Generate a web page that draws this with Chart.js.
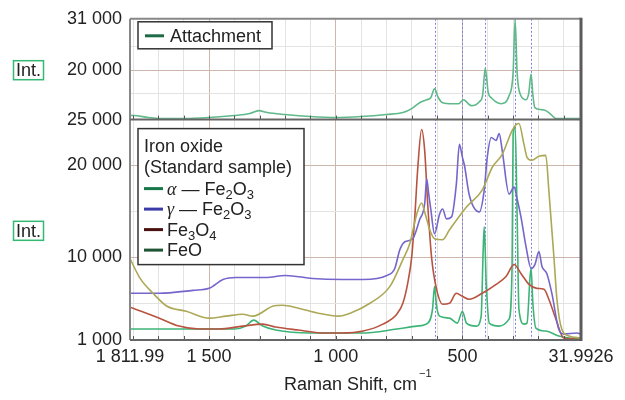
<!DOCTYPE html>
<html>
<head>
<meta charset="utf-8">
<script src="https://cdn.jsdelivr.net/npm/chart.js@4.4.1/dist/chart.umd.min.js"></script>
<style>
  html, body { margin: 0; padding: 0; background: #fff; }
</style>
</head>
<body>
<canvas id="ramanChart" width="625" height="400"></canvas>
<script>
// Raman spectra: attachment (top panel) vs iron oxide standards (bottom panel)
const FONT = '"Liberation Sans", Arial, sans-serif';

const shiftMin = 31.9926;
const shiftMax = 1811.99;
const xLabelValues = [1811.99, 1500, 1000, 500, 31.9926];
const xLabelTexts = ['1 811.99', '1 500', '1 000', '500', '31.9926'];
const xGridValues = [1800, 1700, 1600, 1500, 1400, 1300, 1200, 1100, 1000, 900, 800, 700, 600, 500, 400, 300, 200, 100];
const xMajorValues = [1500, 1000, 500];

const topTickValues = [15000, 20000, 25000, 31000];
const topLabelValues = [31000, 20000];
const bottomTickValues = [1000, 5000, 10000, 15000, 20000, 25000];
const bottomLabelValues = [25000, 20000, 10000, 1000];

// dotted reference lines at the hematite peaks
const peakLines = [610, 500, 410, 292, 229];

// Attachment
const attachShift = [1811.99, 1798, 1740, 1695, 1600, 1500, 1400, 1340, 1304, 1270, 1200, 1100, 1000, 900, 800, 735, 700, 669, 641, 625, 610, 595, 578, 539, 515, 496, 465, 433, 420, 410, 398, 386, 347, 316, 300, 292, 284, 269, 249, 238, 229, 222, 214, 190, 171, 150, 131, 100, 31.9926];
const attachInt = [10270, 10270, 9850, 9640, 9640, 9850, 10270, 10700, 11330, 10910, 10490, 10060, 9850, 10060, 10490, 10910, 11750, 13020, 13660, 14080, 15980, 14080, 13020, 12810, 12810, 13660, 12390, 13230, 14715, 20430, 15137, 14080, 12810, 14500, 19370, 30790, 19370, 14500, 13660, 15137, 19160, 14715, 11970, 11540, 11330, 10490, 9640, 9640, 9640];

// alpha-Fe2O3
const alphaShift = [1811.99, 1500, 1400, 1355, 1324, 1288, 1237, 1100, 900, 759, 680, 637, 618, 610, 602, 590, 551, 520, 500, 484, 445, 426, 418, 414, 406, 394, 355, 316, 304, 300, 292, 284, 277, 257, 245, 233, 229, 222, 210, 171, 120, 80, 31.9926];
const alphaInt = [2191, 2191, 2191, 2515, 3164, 2515, 2083, 1759, 1759, 2191, 2515, 2840, 4353, 6839, 4677, 3596, 3380, 2840, 4137, 2840, 2515, 3596, 10839, 13325, 7164, 2840, 2515, 3272, 9001, 23379, 24243, 14406, 4353, 2731, 2840, 7920, 8785, 5001, 2299, 1975, 1434, 1218, 1110];

// gamma-Fe2O3
const gammaShift = [1811.99, 1696, 1563, 1500, 1445, 1394, 1276, 1198, 1092, 975, 892, 798, 767, 747, 727, 696, 669, 649, 641, 633, 625, 610, 590, 578, 563, 543, 524, 512, 500, 492, 473, 433, 414, 402, 386, 367, 355, 343, 316, 296, 284, 269, 249, 229, 214, 198, 186, 167, 147, 120, 100, 49, 31.9926];
const gammaInt = [6083, 6083, 6407, 6623, 7596, 7812, 7812, 8028, 7704, 7596, 7596, 8028, 8785, 10839, 11704, 12028, 14082, 15812, 18514, 16893, 15271, 12569, 14731, 15271, 14190, 14406, 17973, 22298, 20892, 20027, 16784, 14947, 17325, 20892, 23054, 22730, 23487, 21649, 16893, 17649, 16352, 14406, 11163, 8785, 9217, 10622, 9001, 8245, 6083, 2191, 1650, 1759, 1650];

// Fe3O4
const magShift = [1811.99, 1747, 1696, 1618, 1539, 1461, 1367, 1288, 1237, 1147, 1041, 975, 892, 814, 759, 735, 716, 700, 688, 676, 661, 649, 637, 622, 602, 578, 551, 524, 500, 473, 422, 367, 328, 296, 269, 237, 206, 178, 159, 131, 100, 31.9926];
const magInt = [4569, 3920, 3380, 2515, 2191, 2191, 2515, 2731, 2407, 2083, 1759, 1759, 1975, 2731, 3812, 5001, 7164, 10082, 14406, 19811, 23919, 21649, 15812, 10082, 6515, 4893, 5001, 6083, 5758, 5434, 6083, 7055, 7920, 9217, 8245, 7055, 6623, 6515, 5434, 3272, 1218, 1110];

// FeO
const feoShift = [1811.99, 1772, 1717, 1666, 1590, 1500, 1433, 1367, 1327, 1249, 1210, 1147, 1069, 990, 943, 865, 786, 735, 708, 680, 661, 649, 629, 610, 578, 551, 484, 422, 382, 343, 304, 288, 277, 257, 245, 226, 198, 171, 159, 139, 127, 108, 80, 31.9926];
const feoInt = [9866, 7704, 5974, 4677, 4137, 3380, 3596, 3812, 3596, 4677, 4785, 4461, 3920, 3596, 3920, 5001, 6839, 9758, 11488, 14731, 15920, 14947, 13001, 12028, 11920, 13001, 15487, 17325, 19811, 21216, 23811, 24460, 24568, 22298, 20892, 20568, 21000, 21108, 17325, 10082, 5434, 2191, 1434, 1218];

function toPoints(xs, ys) {
    return xs.map((x, i) => ({ x: x, y: ys[i] }));
}

function spaced(v) {
    return String(v).replace(/\B(?=(\d{3})+(?!\d))/g, ' ');
}

// draws text pieces, subscripts lowered and smaller
function drawRich(ctx, parts, x, y) {
    parts.forEach(p => {
        ctx.font = p.font || (p.sub ? '13px ' + FONT : '18px ' + FONT);
        ctx.fillText(p.t, x, y + (p.sub ? 4 : 0));
        x += ctx.measureText(p.t).width;
    });
    return x;
}

const legendRows = [
    { color: '#17774a', parts: [{ t: 'α', font: 'italic 18px "Liberation Serif", serif' }, { t: ' — ' }, { t: 'Fe' }, { t: '2', sub: true }, { t: 'O' }, { t: '3', sub: true }] },
    { color: '#3c3ca8', parts: [{ t: 'γ', font: 'italic 18px "Liberation Serif", serif' }, { t: ' — ' }, { t: 'Fe' }, { t: '2', sub: true }, { t: 'O' }, { t: '3', sub: true }] },
    { color: '#4a1010', parts: [{ t: 'Fe' }, { t: '3', sub: true }, { t: 'O' }, { t: '4', sub: true }] },
    { color: '#1f5535', parts: [{ t: 'FeO' }] }
];

const ramanDecor = {
    id: 'ramanDecor',
    beforeDatasetsDraw(chart) {
        const { ctx, chartArea, scales } = chart;
        ctx.save();
        ctx.strokeStyle = '#7f7fde';
        ctx.lineWidth = 1;
        ctx.setLineDash([2, 2]);
        peakLines.forEach(v => {
            const px = Math.round(scales.x.getPixelForValue(v)) + 0.5;
            ctx.beginPath();
            ctx.moveTo(px, chartArea.top);
            ctx.lineTo(px, chartArea.bottom);
            ctx.stroke();
        });
        ctx.restore();
    },
    afterDraw(chart) {
        const { ctx, chartArea, scales } = chart;
        const divider = scales.yTop.bottom;
        const L = chartArea.left, R = chartArea.right, T = chartArea.top, B = chartArea.bottom;
        ctx.save();

        // small tick marks on the panel bottoms
        ctx.strokeStyle = '#555';
        ctx.lineWidth = 1;
        xGridValues.forEach(v => {
            const px = Math.round(scales.x.getPixelForValue(v)) + 0.5;
            ctx.beginPath();
            ctx.moveTo(px, B); ctx.lineTo(px, B - 4);
            ctx.moveTo(px, divider); ctx.lineTo(px, divider - 4);
            ctx.stroke();
        });

        // frame
        ctx.strokeStyle = '#888';
        ctx.lineWidth = 2;
        ctx.beginPath(); ctx.moveTo(L, T); ctx.lineTo(R, T); ctx.stroke();
        ctx.beginPath(); ctx.moveTo(L, T); ctx.lineTo(L, B); ctx.stroke();
        ctx.strokeStyle = '#666';
        ctx.beginPath(); ctx.moveTo(L, B); ctx.lineTo(R, B); ctx.stroke();
        ctx.beginPath(); ctx.moveTo(L, divider); ctx.lineTo(R, divider); ctx.stroke();
        ctx.lineWidth = 3;
        ctx.strokeStyle = '#5a5a5a';
        ctx.beginPath(); ctx.moveTo(R, T - 1); ctx.lineTo(R, B + 1); ctx.stroke();

        // "Int." boxes
        ctx.textBaseline = 'alphabetic';
        [(T + divider) / 2, (divider + B) / 2].forEach(cy => {
            ctx.strokeStyle = '#35b873';
            ctx.lineWidth = 1.5;
            ctx.strokeRect(13.5, cy - 8.5, 30, 19);
            ctx.fillStyle = '#222';
            ctx.font = '18px ' + FONT;
            ctx.fillText('Int.', 16, cy + 7);
        });

        // top legend
        ctx.fillStyle = '#fff';
        ctx.fillRect(L + 8, T + 3, 134, 27);
        ctx.strokeStyle = '#333';
        ctx.lineWidth = 1.5;
        ctx.strokeRect(L + 8, T + 3, 134, 27);
        ctx.strokeStyle = '#1f6b47';
        ctx.lineWidth = 3;
        ctx.beginPath(); ctx.moveTo(L + 15, T + 17); ctx.lineTo(L + 34, T + 17); ctx.stroke();
        ctx.fillStyle = '#222';
        drawRich(ctx, [{ t: 'Attachment' }], L + 40, T + 23);

        // bottom legend
        const bx = L + 8, by = divider + 9;
        ctx.fillStyle = '#fff';
        ctx.fillRect(bx, by, 166, 136);
        ctx.strokeStyle = '#333';
        ctx.lineWidth = 1.5;
        ctx.strokeRect(bx, by, 166, 136);
        ctx.fillStyle = '#222';
        drawRich(ctx, [{ t: 'Iron oxide' }], bx + 6, by + 23);
        drawRich(ctx, [{ t: '(Standard sample)' }], bx + 6, by + 44);
        legendRows.forEach((row, i) => {
            const cy = by + 60 + i * 20.5;
            ctx.strokeStyle = row.color;
            ctx.lineWidth = 3;
            ctx.beginPath(); ctx.moveTo(bx + 6, cy); ctx.lineTo(bx + 25, cy); ctx.stroke();
            ctx.fillStyle = '#222';
            drawRich(ctx, row.parts, bx + 29, cy + 6);
        });

        // x axis title with superscript
        ctx.fillStyle = '#222';
        const endX = drawRich(ctx, [{ t: 'Raman Shift, cm' }], 284, 390);
        ctx.font = '11px ' + FONT;
        ctx.fillText('−1', endX + 2, 377);

        ctx.restore();
    }
};

const lineStyle = { pointRadius: 0, borderWidth: 1.6, fill: false, cubicInterpolationMode: 'monotone' };

new Chart(document.getElementById('ramanChart').getContext('2d'), {
    type: 'line',
    data: {
        datasets: [
            Object.assign({ label: 'FeO', data: toPoints(feoShift, feoInt), borderColor: '#aca856', yAxisID: 'yBot' }, lineStyle),
            Object.assign({ label: 'γ-Fe2O3', data: toPoints(gammaShift, gammaInt), borderColor: '#7466cc', yAxisID: 'yBot' }, lineStyle),
            Object.assign({ label: 'Fe3O4', data: toPoints(magShift, magInt), borderColor: '#b8533f', yAxisID: 'yBot' }, lineStyle),
            Object.assign({ label: 'α-Fe2O3', data: toPoints(alphaShift, alphaInt), borderColor: '#3db477', yAxisID: 'yBot' }, lineStyle),
            Object.assign({ label: 'Attachment', data: toPoints(attachShift, attachInt), borderColor: '#5fb98a', yAxisID: 'yTop' }, lineStyle)
        ]
    },
    options: {
        responsive: false,
        animation: false,
        devicePixelRatio: 1,
        layout: { padding: { top: 15, right: 44, left: 0, bottom: 0 } },
        plugins: {
            legend: { display: false },
            tooltip: { enabled: false }
        },
        scales: {
            x: {
                type: 'linear',
                reverse: true,
                min: shiftMin,
                max: shiftMax,
                afterBuildTicks: (scale) => {
                    const vals = Array.from(new Set(xGridValues.concat(xLabelValues))).sort((a, b) => b - a);
                    scale.ticks = vals.map(v => ({ value: v }));
                },
                afterFit: (scale) => { scale.height = 60; },
                grid: {
                    drawTicks: false,
                    color: (c) => (c.tick && xMajorValues.includes(c.tick.value)) ? '#cdb7ad' : '#e3e3e3',
                    lineWidth: 1
                },
                border: { display: false },
                ticks: {
                    autoSkip: false,
                    maxRotation: 0,
                    padding: 6,
                    color: '#222',
                    font: { family: FONT, size: 18 },
                    callback: (value) => {
                        const i = xLabelValues.indexOf(value);
                        return i >= 0 ? xLabelTexts[i] : '';
                    }
                }
            },
            yBot: {
                type: 'linear',
                position: 'left',
                stack: 'raman',
                stackWeight: 223,
                min: 1000,
                max: 25000,
                afterBuildTicks: (scale) => { scale.ticks = bottomTickValues.map(v => ({ value: v })); },
                afterFit: (scale) => { scale.width = 130; },
                grid: {
                    drawTicks: false,
                    color: (c) => (c.tick && (c.tick.value === 20000 || c.tick.value === 10000)) ? '#cdb7ad' : '#e3e3e3'
                },
                border: { display: false },
                ticks: {
                    autoSkip: false,
                    padding: 8,
                    color: '#222',
                    font: { family: FONT, size: 18 },
                    callback: (value) => bottomLabelValues.includes(value) ? spaced(value) : ''
                }
            },
            yTop: {
                type: 'linear',
                position: 'left',
                stack: 'raman',
                stackWeight: 102,
                min: 9400,
                max: 31000,
                afterBuildTicks: (scale) => { scale.ticks = topTickValues.map(v => ({ value: v })); },
                afterFit: (scale) => { scale.width = 130; },
                grid: {
                    drawTicks: false,
                    color: (c) => (c.tick && c.tick.value === 20000) ? '#cdb7ad' : '#e3e3e3'
                },
                border: { display: false },
                ticks: {
                    autoSkip: false,
                    padding: 8,
                    color: '#222',
                    font: { family: FONT, size: 18 },
                    callback: (value) => topLabelValues.includes(value) ? spaced(value) : ''
                }
            }
        }
    },
    plugins: [ramanDecor]
});
</script>
</body>
</html>
